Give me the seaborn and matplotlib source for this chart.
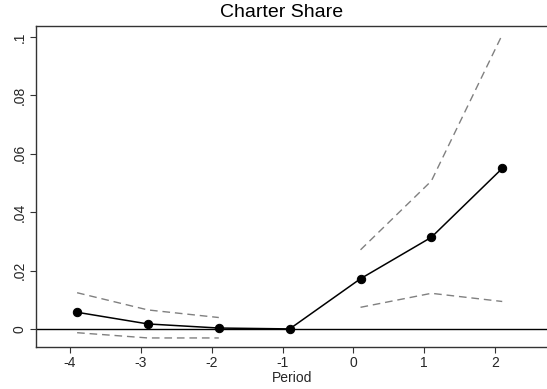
import matplotlib
matplotlib.use("Agg")
import matplotlib.pyplot as plt
import seaborn as sns
import pandas as pd
import numpy as np

# Data
period = [-3.9, -2.9, -1.9, -0.9, 0.1, 1.1, 2.1]
estimate = [0.0057, 0.0017, 0.0003, 0.0, 0.0172, 0.0314, 0.0550]
pre_period = [-3.9, -2.9, -1.9]
pre_upper = [0.0124, 0.0065, 0.0039]
pre_lower = [-0.0013, -0.0031, -0.0031]
post_period = [0.1, 1.1, 2.1]
post_upper = [0.0271, 0.0507, 0.1008]
post_lower = [0.0074, 0.0122, 0.0094]
xticks = [-4, -3, -2, -1, 0, 1, 2]
yticks = [0, 0.02, 0.04, 0.06, 0.08, 0.1]
ytick_labels = ["0", ".02", ".04", ".06", ".08", ".1"]

sns.set_style("white")
plt.rcParams["font.family"] = ["Liberation Sans", "DejaVu Sans"]

fig = plt.figure(figsize=(5.47, 3.89), dpi=100)
ax = fig.add_axes([36 / 547, 1 - 347 / 389, 513 / 547, (347 - 26) / 389])

ax.axhline(0, color="black", lw=1.0, zorder=1)

ci = pd.DataFrame({
    "x": pre_period * 2 + post_period * 2,
    "y": pre_upper + pre_lower + post_upper + post_lower,
    "seg": ["pu"] * 3 + ["pl"] * 3 + ["qu"] * 3 + ["ql"] * 3,
})
for seg, d in ci.groupby("seg"):
    sns.lineplot(data=d, x="x", y="y", ax=ax, color="#808080", lw=1.0,
                 linestyle=(0, (5.5, 3.5)), estimator=None, sort=False, zorder=2)

main = pd.DataFrame({"x": period, "y": estimate})
sns.lineplot(data=main, x="x", y="y", ax=ax, color="black", lw=1.1,
             marker="o", markersize=6, markeredgecolor="black",
             markerfacecolor="black", estimator=None, zorder=3)

ax.set_xlim(-4.48, 2.76)
ax.set_ylim(-0.0062, 0.1038)
ax.set_xticks(xticks)
ax.set_xticklabels([str(t) for t in xticks])
ax.set_yticks(yticks)
ax.set_yticklabels(ytick_labels, rotation=90, va="center")
ax.tick_params(axis="both", direction="out", length=4.5, width=0.8,
               color="#333333", labelsize=10, pad=2, bottom=True, left=True)
ax.set_xlabel("Period", fontsize=10, labelpad=1)
ax.set_ylabel("")
fig.text(282 / 547, 1 - 17 / 389, "Charter Share", fontsize=14,
         ha="center", va="baseline", color="black")
for side in ["top", "bottom", "left"]:
    ax.spines[side].set_color("#333333")
    ax.spines[side].set_linewidth(1.0)
ax.spines["right"].set_visible(False)

fig.savefig("out.png", dpi=100)
